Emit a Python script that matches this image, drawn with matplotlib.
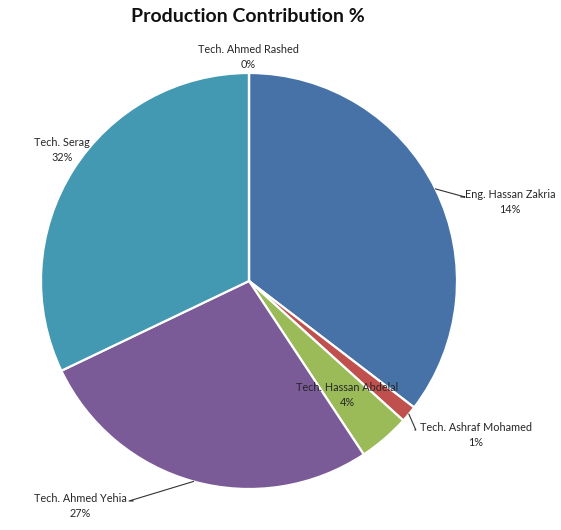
"""Production contribution pie chart."""

import matplotlib
matplotlib.use("Agg")
import numpy as np
import matplotlib.pyplot as plt

names = ["Eng. Hassan Zakria", "Tech. Ashraf Mohamed", "Tech. Hassan Abdelal",
         "Tech. Ahmed Yehia", "Tech. Serag", "Tech. Ahmed Rashed"]
# slice sizes as drawn
shares = [35.4, 1.3, 4.0, 27.2, 32.1, 0.0]
# percentages as printed on the labels
label_pcts = ["14%", "1%", "4%", "27%", "32%", "0%"]
colors = ["#4672A8", "#C0504D", "#9BBB59", "#7A5A97", "#4399B1", "#BBBBBB"]

# label centre positions (figure pixels, top-left origin) and whether to draw a leader
label_pos = [(510, 202), (476, 435), (347, 395), (80, 506), (62, 150), (248, 57)]
leader = [True, True, False, True, False, False]

W, H = 561, 530
plt.rcParams["font.family"] = ["Lato", "DejaVu Sans"]

fig = plt.figure(figsize=(W / 100, H / 100), dpi=100)
ax = fig.add_axes([0, 0, 1, 1])

cx, cy, r = 249, H - 281, 208
wedges, _ = ax.pie(shares, colors=colors, startangle=90, counterclock=False,
                   center=(cx, cy), radius=r, frame=True,
                   wedgeprops=dict(edgecolor="white", linewidth=1.6))
ax.set_xlim(0, W)
ax.set_ylim(0, H)
ax.set_aspect("equal")
ax.axis("off")

for w, name, pct, (lx, ly), lead in zip(wedges, names, label_pcts, label_pos, leader):
    ax.text(lx, H - ly, f"{name}\n{pct}", ha="center", va="center",
            fontsize=7.8, color="#262626", linespacing=1.45)
    if lead:
        mid = np.deg2rad((w.theta1 + w.theta2) / 2)
        px, py = cx + r * np.cos(mid), cy + r * np.sin(mid)
        if lx > cx:
            ex = lx - 49 if lx > 490 else lx - 61
        else:
            ex = lx + 53
        ey = H - ly + 5
        if name == "Tech. Ashraf Mohamed":
            ax.plot([px, px + 7, ex], [py, ey, ey], color="#333333", lw=0.8)
        else:
            ax.plot([px, ex + (4 if lx > cx else -4), ex], [py, ey, ey],
                    color="#333333", lw=0.8)

fig.text(248 / W, 1 - 17 / H, "Production Contribution %", ha="center", va="center",
         fontsize=14, fontweight="bold", color="#111111")

fig.savefig("out.png", dpi=100)
